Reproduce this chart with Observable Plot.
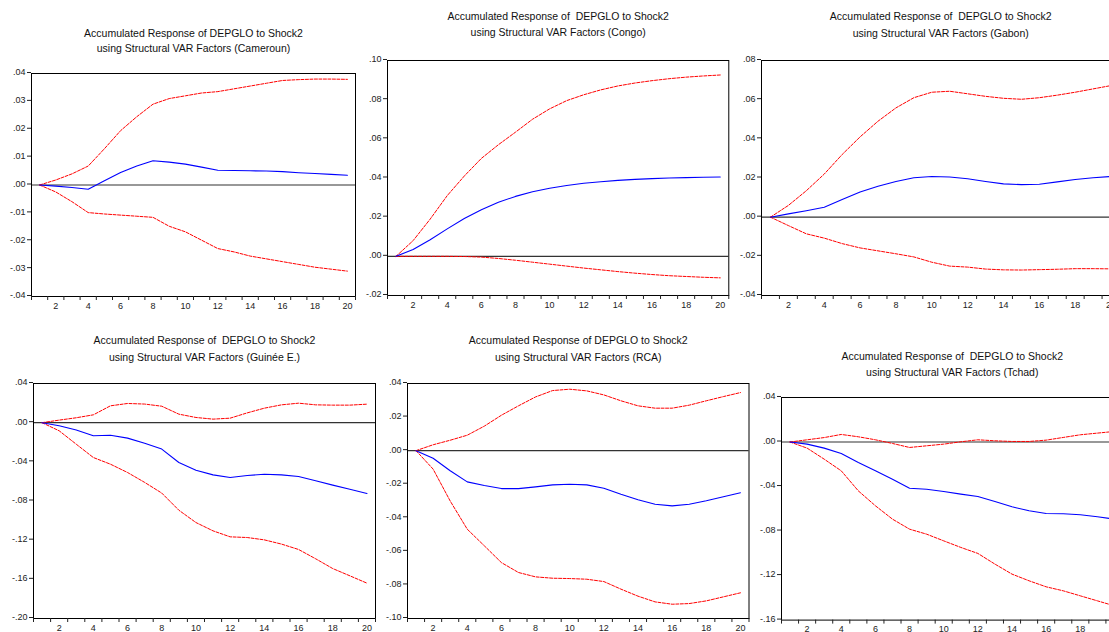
<!DOCTYPE html>
<html>
<head>
<meta charset="utf-8">
<script src="https://cdn.jsdelivr.net/npm/d3@7"></script>
<script src="https://cdn.jsdelivr.net/npm/@observablehq/plot@0.6"></script>
<style>
  html, body { margin: 0; padding: 0; background: #fff; overflow: hidden; }
  #wrap { position: relative; width: 1109px; height: 632px; overflow: hidden; background: #fff; }
  #wrap > div, #wrap > svg { position: absolute; }
</style>
</head>
<body>
<div id="wrap"></div>
<script>
// ---------- data ----------
const periods = [1,2,3,4,5,6,7,8,9,10,11,12,13,14,15,16,17,18,19,20];
const xTickLabels = [2,4,6,8,10,12,14,16,18,20];

const camerounMid = [0,-0.0004,-0.0009,-0.0015,0.0015,0.0045,0.0068,0.0087,0.0082,0.0075,0.0064,0.0053,0.0052,0.0051,0.005,0.0048,0.0044,0.0041,0.0038,0.0035];
const camerounUp  = [0,0.0018,0.004,0.0068,0.013,0.0195,0.0245,0.029,0.031,0.032,0.033,0.0335,0.0345,0.0355,0.0365,0.0375,0.0378,0.038,0.038,0.0379];
const camerounLo  = [0,-0.0025,-0.006,-0.0099,-0.0104,-0.0108,-0.0112,-0.0116,-0.0148,-0.0168,-0.0198,-0.0228,-0.024,-0.0255,-0.0265,-0.0275,-0.0285,-0.0295,-0.0302,-0.0309];
const camerounYTicks = [-0.04,-0.03,-0.02,-0.01,0,0.01,0.02,0.03,0.04];

const congoMid = [0,0.0035,0.0085,0.014,0.0193,0.0238,0.0276,0.0306,0.033,0.0348,0.0362,0.0373,0.0381,0.0388,0.0393,0.0397,0.04,0.0402,0.0404,0.0405];
const congoUp  = [0,0.008,0.019,0.031,0.041,0.05,0.057,0.0634,0.07,0.0753,0.0795,0.0825,0.085,0.087,0.0885,0.0897,0.0907,0.0915,0.0921,0.0926];
const congoLo  = [0,0,0,0,-0.0001,-0.0004,-0.0011,-0.002,-0.003,-0.004,-0.005,-0.006,-0.0069,-0.0078,-0.0086,-0.0093,-0.0099,-0.0103,-0.0107,-0.011];
const congoYTicks = [-0.02,0,0.02,0.04,0.06,0.08,0.10];

const gabonMid = [0,0.0017,0.0033,0.0051,0.009,0.0128,0.0158,0.0182,0.0201,0.0208,0.0205,0.0196,0.0182,0.017,0.0166,0.0168,0.018,0.0192,0.0201,0.0208];
const gabonUp  = [0,0.006,0.0135,0.022,0.032,0.041,0.049,0.0558,0.061,0.0638,0.0643,0.063,0.0617,0.0607,0.0602,0.061,0.0623,0.0638,0.0655,0.0672];
const gabonLo  = [0,-0.0043,-0.0085,-0.0107,-0.0135,-0.0157,-0.0172,-0.0187,-0.0203,-0.023,-0.025,-0.0255,-0.0265,-0.0269,-0.027,-0.0268,-0.0266,-0.0263,-0.0263,-0.0264];
const gabonYTicks = [-0.04,-0.02,0,0.02,0.04,0.06,0.08];

const guineeMid = [0,-0.0032,-0.0075,-0.0134,-0.0128,-0.0158,-0.021,-0.027,-0.0407,-0.0485,-0.0533,-0.056,-0.054,-0.0527,-0.0533,-0.055,-0.0594,-0.0638,-0.068,-0.0724];
const guineeUp  = [0,0.0026,0.005,0.008,0.0172,0.0196,0.019,0.0168,0.0087,0.0053,0.0036,0.0046,0.01,0.0148,0.0182,0.0199,0.0182,0.0179,0.0179,0.0189];
const guineeLo  = [0,-0.0083,-0.022,-0.0356,-0.0424,-0.0509,-0.061,-0.0719,-0.0894,-0.102,-0.1105,-0.1166,-0.1173,-0.1197,-0.124,-0.1295,-0.139,-0.149,-0.1564,-0.1639];
const guineeYTicks = [-0.20,-0.16,-0.12,-0.08,-0.04,0,0.04];

const rcaMid = [0,-0.0045,-0.012,-0.0186,-0.0208,-0.0226,-0.0226,-0.0216,-0.0204,-0.02,-0.0204,-0.0224,-0.026,-0.0293,-0.0319,-0.0329,-0.0319,-0.0299,-0.0275,-0.0251];
const rcaUp  = [0,0.0035,0.0062,0.0092,0.0146,0.0211,0.0267,0.032,0.0358,0.0366,0.0356,0.0332,0.0297,0.0267,0.0253,0.0253,0.0271,0.0297,0.0322,0.0346];
const rcaLo  = [0,-0.011,-0.03,-0.0468,-0.0567,-0.0667,-0.0726,-0.0752,-0.076,-0.0762,-0.0766,-0.078,-0.0825,-0.0867,-0.0901,-0.0915,-0.0911,-0.0895,-0.0871,-0.0847];
const rcaYTicks = [-0.10,-0.08,-0.06,-0.04,-0.02,0,0.02,0.04];

const tchadMid = [0,-0.0019,-0.0055,-0.0103,-0.0184,-0.0259,-0.0334,-0.0415,-0.0424,-0.0444,-0.0468,-0.0489,-0.0534,-0.0582,-0.0618,-0.0642,-0.0645,-0.0654,-0.0672,-0.0693];
const tchadUp  = [0,0.002,0.004,0.0068,0.0047,0.002,-0.0013,-0.0049,-0.0034,-0.0019,0.0002,0.002,0.0011,0.0005,0.0005,0.0017,0.0041,0.0065,0.008,0.0095];
const tchadLo  = [0,-0.0055,-0.0154,-0.0259,-0.0439,-0.0573,-0.0693,-0.0783,-0.0828,-0.0888,-0.0947,-0.1001,-0.1097,-0.1187,-0.1247,-0.1301,-0.1337,-0.1382,-0.1427,-0.1472];
const tchadYTicks = [-0.16,-0.12,-0.08,-0.04,0,0.04];

const titleLine1a = "Accumulated Response of DEPGLO to Shock2";
const titleLine1b = "Accumulated Response of  DEPGLO to Shock2";
const titleLine2 = c => `using Structural VAR Factors (${c})`;

// ---------- layout ----------
const ML = 30, MR = 5, MT = 50, MB = 20;
const panels = [
  {t1: titleLine1a, country: "Cameroun", mid: camerounMid, up: camerounUp, lo: camerounLo, yTicks: camerounYTicks, L: 31, R: 355, T: 73, B: 296, d1: 40, d2: 25},
  {t1: titleLine1b, country: "Congo", mid: congoMid, up: congoUp, lo: congoLo, yTicks: congoYTicks, L: 386.5, R: 727.8, T: 60, B: 295, d1: 44, d2: 28},
  {t1: titleLine1b, country: "Gabon", mid: gabonMid, up: gabonUp, lo: gabonLo, yTicks: gabonYTicks, L: 761, R: 1119.5, T: 60, B: 295, d1: 44, d2: 27},
  {t1: titleLine1b, country: "Guinée E.", mid: guineeMid, up: guineeUp, lo: guineeLo, yTicks: guineeYTicks, L: 32.5, R: 374.5, T: 382.7, B: 617.7, d1: 42.7, d2: 25.7},
  {t1: titleLine1a, country: "RCA", mid: rcaMid, up: rcaUp, lo: rcaLo, yTicks: rcaYTicks, L: 406.5, R: 748, T: 382.7, B: 617.7, d1: 42.7, d2: 25.7},
  {t1: titleLine1b, country: "Tchad", mid: tchadMid, up: tchadUp, lo: tchadLo, yTicks: tchadYTicks, L: 780.5, R: 1122, T: 396.7, B: 619.3, d1: 40.7, d2: 24.7}
];

const boundaries = [0.5, ...periods.map(p => p + 0.5)];
const fmt = d => (d < 0 ? "-" : "") + Math.abs(d).toFixed(2).replace(/^0/, "");
const wrap = document.getElementById("wrap");

for (const cfg of panels) {
  const rows = periods.map((p, i) => ({p, mid: cfg.mid[i], up: cfg.up[i], lo: cfg.lo[i]}));
  const fw = cfg.R - cfg.L, fh = cfg.B - cfg.T;
  const chart = Plot.plot({
    width: fw + ML + MR,
    height: fh + MT + MB,
    marginLeft: ML, marginRight: MR, marginTop: MT, marginBottom: MB,
    style: {fontFamily: "'Liberation Sans', Arial, sans-serif", fontSize: "9px", background: "transparent", overflow: "visible", color: "#222"},
    x: {domain: [0.5, 20.5]},
    y: {domain: [cfg.yTicks[0], cfg.yTicks[cfg.yTicks.length - 1]]},
    marks: [
      Plot.ruleY([0], {stroke: "#333", strokeWidth: 1.2}),
      Plot.line(rows, {x: "p", y: "up", stroke: "#ff0000", strokeWidth: 1, strokeDasharray: "3,1.5"}),
      Plot.line(rows, {x: "p", y: "lo", stroke: "#ff0000", strokeWidth: 1, strokeDasharray: "3,1.5"}),
      Plot.line(rows, {x: "p", y: "mid", stroke: "#0000ff", strokeWidth: 1.1}),
      Plot.frame({stroke: "#000", strokeWidth: 1}),
      Plot.axisY({ticks: cfg.yTicks, tickSize: 4, tickPadding: 2, tickFormat: fmt, label: null, dy: -1}),
      Plot.axisX({ticks: boundaries, tickSize: 4, tickFormat: () => "", label: null}),
      Plot.axisX({ticks: xTickLabels, tickSize: 0, tickPadding: 6, label: null}),
      Plot.text([cfg.t1], {text: d => d, frameAnchor: "top", lineAnchor: "middle", dy: -cfg.d1, fontSize: 10.5, fill: "#111"}),
      Plot.text([titleLine2(cfg.country)], {text: d => d, frameAnchor: "top", lineAnchor: "middle", dy: -cfg.d2, fontSize: 10.5, fill: "#111"})
    ]
  });
  chart.style.position = "absolute";
  chart.style.left = (cfg.L - ML) + "px";
  chart.style.top = (cfg.T - MT) + "px";
  wrap.appendChild(chart);
}
</script>
</body>
</html>
